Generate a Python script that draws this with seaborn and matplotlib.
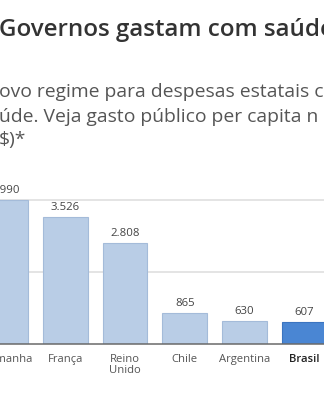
import matplotlib
matplotlib.use("Agg")
import matplotlib.pyplot as plt
import seaborn as sns
import pandas as pd

# Gasto público per capita com saúde (US$)
paises = ["Alemanha", "França", "Reino\nUnido", "Chile", "Argentina", "Brasil"]
gasto = [3990, 3526, 2808, 865, 630, 607]
rotulos = ["3.990", "3.526", "2.808", "865", "630", "607"]
destaque = "Brasil"

titulo = "Governos gastam com saúde"
subtitulo = [
    "ovo regime para despesas estatais c",
    "úde. Veja gasto público per capita n",
    "$)*",
]

sns.set_theme(style="white")
plt.rcParams["font.family"] = ["Open Sans", "DejaVu Sans"]

W, H = 324, 400
fig = plt.figure(figsize=(W / 100, H / 100), dpi=100)
fig.patch.set_facecolor("white")

# plot area: baseline 56 px from the bottom, 150 px tall
ax = fig.add_axes([0, 56 / H, 1, 150 / H])

df = pd.DataFrame({"pais": paises, "gasto": gasto})
cores = {p: ("#4a86d3" if p == destaque else "#b9cde6") for p in paises}
bordas = {p: ("#3b74c0" if p == destaque else "#a4bbd9") for p in paises}

sns.barplot(data=df, x="pais", y="gasto", hue="pais", palette=cores,
            legend=False, width=0.75, saturation=1, ax=ax)

for patch, p in zip(ax.patches, paises):
    patch.set_edgecolor(bordas[p])
    patch.set_linewidth(0.8)

ax.set_xlim(-0.092, 5.33)
ax.set_ylim(0, 4000 * 150 / 144)

# horizontal guide lines
ax.set_yticks([2000, 4000])
ax.yaxis.grid(True, color="#e2e2e2", linewidth=1.3)
ax.set_axisbelow(True)
ax.tick_params(axis="y", left=False, labelleft=False)

for s in ["top", "right", "left"]:
    ax.spines[s].set_visible(False)
ax.spines["bottom"].set_color("#6a6a6a")
ax.spines["bottom"].set_linewidth(1.1)

ax.set_xlabel("")
ax.set_ylabel("")
ax.tick_params(axis="x", length=0, pad=7, labelsize=8.1, labelcolor="#555555")
for lbl in ax.get_xticklabels():
    lbl.set_linespacing(1.0)
    if lbl.get_text() == destaque:
        lbl.set_color("#222222")
        lbl.set_fontweight("semibold")

# value labels above each bar
for i, (v, r) in enumerate(zip(gasto, rotulos)):
    ax.annotate(r, (i, v), xytext=(0, 3), textcoords="offset points",
                ha="center", va="bottom", fontsize=8.2, color="#444444",
                annotation_clip=False)

# title and subtitle
fig.text(-1 / W, 1 - 36 / H, titulo, fontsize=17.4, fontweight="semibold",
         color="#333333", va="baseline", ha="left")
for linha, y in zip(subtitulo, [96.7, 121.7, 145]):
    fig.text(-1 / W, 1 - y / H, linha, fontsize=13.9, color="#555555",
             va="baseline", ha="left")

fig.savefig("out.png", dpi=100, facecolor="white")
